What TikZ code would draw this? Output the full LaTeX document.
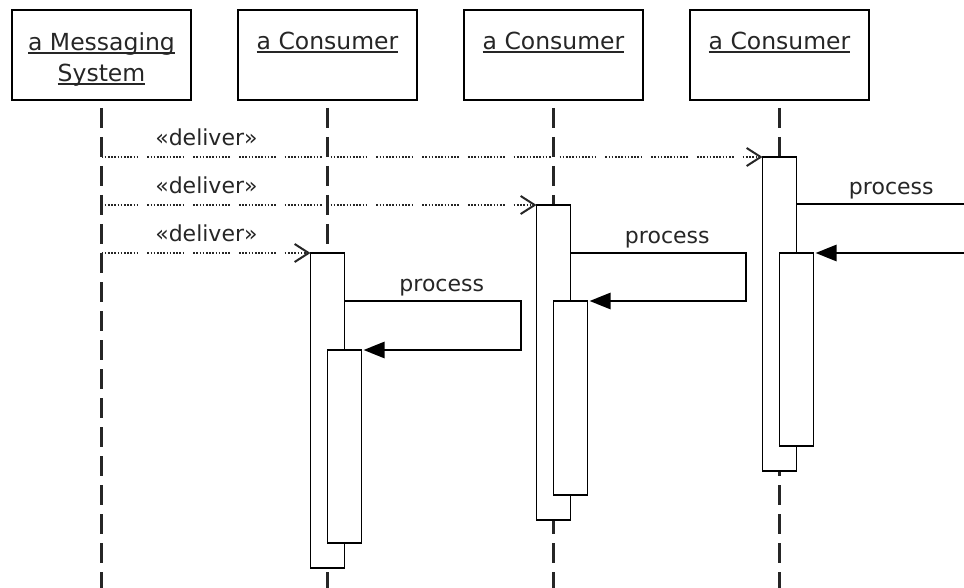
\documentclass[tikz,border=0pt]{standalone}
\usepackage{fontspec}
\setmainfont{DejaVu Sans}
\usetikzlibrary{arrows.meta, positioning}

\newcommand{\undl}[1]{\setbox0=\hbox{#1}\rlap{\rule[-3.5pt]{\wd0}{1.8pt}}\box0}

\begin{document}
\begin{tikzpicture}[
    x=1pt, y=-1pt,
    head/.style={rectangle, draw, line width=2pt, minimum width=179pt, minimum height=90pt, outer sep=0pt},
    htext/.style={font=\fontsize{23.5}{31}\selectfont, align=center, inner sep=0pt, text=black!85},
    life/.style={line width=2.2pt, black!85, dash pattern=on 20pt off 9pt},
    bar/.style={rectangle, draw, fill=white, line width=1.8pt, minimum width=34pt, outer sep=0pt},
    lbl/.style={font=\fontsize{22}{26}\selectfont, inner sep=4pt, text=black!85},
    dlv/.style={line width=1.6pt, black!85,
        dash pattern=on 1.6pt off 1.6pt on 1.6pt off 1.6pt on 1.6pt off 1.6pt on 1.6pt off 1.6pt
            on 1.6pt off 1.6pt on 1.6pt off 1.6pt on 1.6pt off 1.6pt on 1.6pt off 1.6pt
            on 1.6pt off 1.6pt on 1.6pt off 1.6pt on 1.6pt off 1.6pt on 1.6pt off 9pt,
        -{Straight Barb[length=14pt, width=18pt, line width=2pt]}},
    msg/.style={line width=2.8pt},
    ret/.style={msg, -{Triangle[length=21pt, width=16pt]}, shorten >=2pt}
]
\useasboundingbox (0,0) rectangle (964,588);

% heads
\node[head] (ms) at (101.5,55) {};
\node[head, right=47pt of ms] (cons1) {};
\node[head, right=47pt of cons1] (cons2) {};
\node[head, right=47pt of cons2] (cons3) {};
\node[htext, below=22pt of ms.north] (msname) {\undl{a Messaging}\\\undl{System}};
\node[htext, below=22pt of cons1.north] (cname1) {\undl{a Consumer}};
\node[htext, below=22pt of cons2.north] (cname2) {\undl{a Consumer}};
\node[htext, below=22pt of cons3.north] (cname3) {\undl{a Consumer}};

% lifelines
\coordinate (bot) at (0,592);
\draw[life] ([yshift=-8pt]ms.south) -- (ms.south |- bot);
\draw[life] ([yshift=-8pt]cons1.south) -- (cons1.south |- bot);
\draw[life] ([yshift=-8pt]cons2.south) -- (cons2.south |- bot);
\draw[life] ([yshift=-8pt]cons3.south) -- (cons3.south |- bot);

% activations
\node[bar, minimum height=315pt, anchor=north] (act1) at (327.5,253) {};
\node[bar, minimum height=315pt, anchor=north] (act2) at (553.5,205) {};
\node[bar, minimum height=314pt, anchor=north] (act3) at (779.5,157) {};
\node[bar, minimum height=193pt, anchor=north west] (act1b) at (327.5,350) {};
\node[bar, minimum height=194pt, anchor=north west] (act2b) at (553.5,301) {};
\node[bar, minimum height=193pt, anchor=north west] (act3b) at (779.5,253) {};

% deliver
\draw[dlv] (ms |- act3.north west) -- node[lbl, at start, anchor=base west, xshift=49pt, yshift=11pt] {«deliver»} (act3.north west);
\draw[dlv] (ms |- act2.north west) -- node[lbl, at start, anchor=base west, xshift=49pt, yshift=11pt] {«deliver»} (act2.north west);
\draw[dlv] (ms |- act1.north west) -- node[lbl, at start, anchor=base west, xshift=49pt, yshift=11pt] {«deliver»} (act1.north west);

% process
\coordinate (turn1) at (521,301);
\coordinate (turn2) at (746,253);
\coordinate (out3) at (964,204);
\coordinate (back3) at (964,253);
\draw[ret] (act1.east |- turn1) -- node[lbl, above, xshift=9pt] {process} (turn1) |- (act1b.north east);
\draw[ret] (act2.east |- turn2) -- node[lbl, above, xshift=9pt] {process} (turn2) |- (act2b.north east);
\draw[msg] (act3.east |- out3) -- node[lbl, above, xshift=11pt] {process} (out3);
\draw[ret] (back3) -- (act3b.north east);
\end{tikzpicture}
\end{document}
